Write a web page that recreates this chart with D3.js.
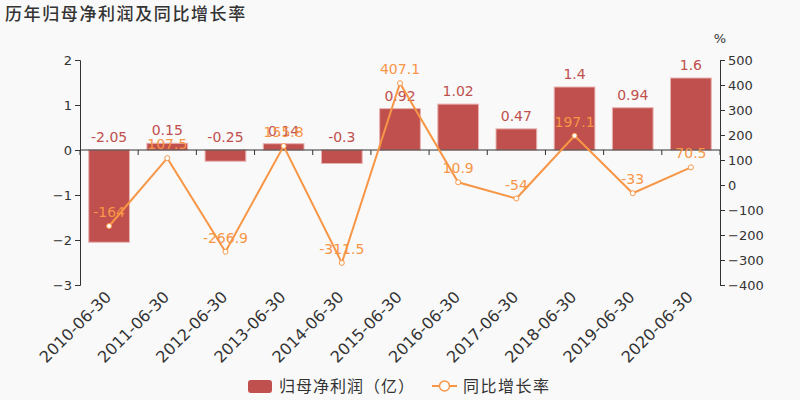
<!DOCTYPE html>
<html><head><meta charset="utf-8">
<script src="https://cdn.jsdelivr.net/npm/d3@7"></script>
<style>
html,body{margin:0;padding:0;background:#f9f9f9;}
svg{display:block;font-family:"DejaVu Sans",sans-serif;}
</style></head>
<body>
<svg id="c" width="800" height="400"></svg>
<script>
const categories = ["2010-06-30","2011-06-30","2012-06-30","2013-06-30","2014-06-30","2015-06-30","2016-06-30","2017-06-30","2018-06-30","2019-06-30","2020-06-30"];
const profit = [-2.05, 0.15, -0.25, 0.14, -0.3, 0.92, 1.02, 0.47, 1.4, 0.94, 1.6];
const growth = [-164, 107.5, -266.9, 155.8, -311.5, 407.1, 10.9, -54, 197.1, -33, 70.5];
const leftTicks = [-3, -2, -1, 0, 1, 2];
const rightTicks = [-400, -300, -200, -100, 0, 100, 200, 300, 400, 500];
const title = "历年归母净利润及同比增长率";
const seriesNames = ["归母净利润（亿）", "同比增长率"];

const barColor = "#c0504d", lineColor = "#f79646", axisColor = "#333";
const svg = d3.select("#c");
const L = 80, R = 720, T = 60, B = 285;
const cjk = '"Noto Sans CJK SC", sans-serif';

const x = d3.scaleBand().domain(categories).range([L, R]).paddingInner(0.3).paddingOuter(0.15);
const yL = d3.scaleLinear().domain([-3, 2]).range([B, T]);
const yR = d3.scaleLinear().domain([-400, 500]).range([B, T]);

svg.append("text").attr("x", 5).attr("y", 20).attr("font-family", cjk).attr("font-size", 17)
  .attr("letter-spacing", 1.6).attr("font-weight", 500).attr("fill", "#333").text(title);

// bars
svg.append("g").selectAll("rect").data(profit).join("rect")
  .attr("x", (d, i) => x(categories[i]))
  .attr("width", x.bandwidth())
  .attr("y", d => yL(Math.max(0, d)))
  .attr("height", d => Math.abs(yL(d) - yL(0)))
  .attr("fill", barColor).attr("stroke", "#e8b4b2").attr("stroke-width", 1);

// left axis
const gl = svg.append("g").attr("transform", `translate(${L},0)`)
  .call(d3.axisLeft(yL).tickValues(leftTicks).tickSize(5).tickPadding(3).tickFormat(d3.format("d")));
// right axis
const gr = svg.append("g").attr("transform", `translate(${R},0)`)
  .call(d3.axisRight(yR).tickValues(rightTicks).tickSize(5).tickPadding(3).tickFormat(d3.format("d")));
[gl, gr].forEach(g => {
  g.select(".domain").attr("stroke", axisColor);
  g.selectAll(".tick line").attr("stroke", axisColor);
  g.selectAll(".tick text").attr("fill", axisColor).attr("font-size", 13).attr("font-family", "DejaVu Sans");
});

// x axis at zero
const y0 = yL(0);
const gx = svg.append("g");
gx.append("line").attr("x1", L).attr("x2", R).attr("y1", y0).attr("y2", y0).attr("stroke", axisColor);
const step = x.step();
const bounds = d3.range(categories.length + 1).map(k => x(categories[0]) - x.paddingInner() * step / 2 + k * step);
gx.selectAll("line.tk").data(bounds).join("line").attr("class", "tk")
  .attr("x1", d => d).attr("x2", d => d).attr("y1", y0).attr("y2", y0 + 5).attr("stroke", axisColor);
gx.selectAll("text").data(categories).join("text")
  .attr("transform", d => `translate(${x(d) + x.bandwidth() / 2 + 3},${B + 13}) rotate(-45)`)
  .attr("text-anchor", "end").attr("font-size", 16).attr("fill", axisColor).text(d => d);

svg.append("text").attr("x", R).attr("y", 43).attr("text-anchor", "middle").attr("font-size", 13).attr("fill", axisColor).text("%");

// bar labels
svg.append("g").selectAll("text").data(profit).join("text")
  .attr("x", (d, i) => x(categories[i]) + x.bandwidth() / 2)
  .attr("y", d => yL(Math.max(0, d)) - 8)
  .attr("text-anchor", "middle").attr("font-size", 14).attr("fill", barColor).text(d => d);

// line
const cx = (i) => x(categories[i]) + x.bandwidth() / 2;
const line = d3.line().x((d, i) => cx(i)).y(d => yR(d));
svg.append("path").datum(growth).attr("d", line).attr("fill", "none").attr("stroke", lineColor).attr("stroke-width", 2);
svg.append("g").selectAll("circle").data(growth).join("circle")
  .attr("cx", (d, i) => cx(i)).attr("cy", d => yR(d)).attr("r", 2.5)
  .attr("fill", "#fff").attr("stroke", lineColor).attr("stroke-width", 1);
svg.append("g").selectAll("text").data(growth).join("text")
  .attr("x", (d, i) => cx(i)).attr("y", d => yR(d) - 9)
  .attr("text-anchor", "middle").attr("font-size", 14).attr("fill", lineColor).text(d => d);

// legend
const lg = svg.append("g");
lg.append("rect").attr("x", 248).attr("y", 380).attr("width", 24).attr("height", 13).attr("rx", 3).attr("fill", barColor);
lg.append("text").attr("x", 279).attr("y", 392).attr("font-family", cjk).attr("font-size", 16).attr("letter-spacing", 1).attr("fill", "#333").text(seriesNames[0]);
lg.append("line").attr("x1", 432).attr("x2", 457).attr("y1", 386).attr("y2", 386).attr("stroke", lineColor).attr("stroke-width", 2);
lg.append("circle").attr("cx", 444.5).attr("cy", 386).attr("r", 5).attr("fill", "#fff").attr("stroke", lineColor).attr("stroke-width", 1.5);
lg.append("text").attr("x", 463).attr("y", 392).attr("font-family", cjk).attr("font-size", 16).attr("letter-spacing", 1.5).attr("fill", "#333").text(seriesNames[1]);
</script>
</body></html>
